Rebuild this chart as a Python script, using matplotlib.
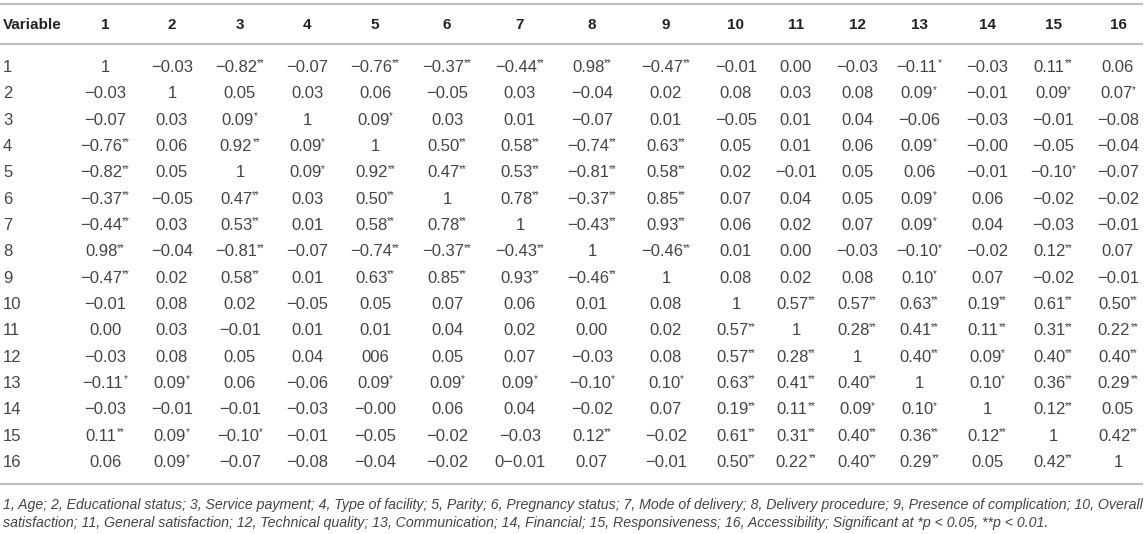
import matplotlib.pyplot as plt
from matplotlib.lines import Line2D

plt.rcParams['font.family'] = ['Liberation Sans', 'DejaVu Sans']

# column headers and row labels
col_labels = [str(i) for i in range(1, 17)]
row_labels = [str(i) for i in range(1, 17)]

# correlation values as printed (stars = significance)
r1 = ['1', '−0.03', '−0.82**', '−0.07', '−0.76**', '−0.37**', '−0.44**', '0.98**', '−0.47**', '−0.01', '0.00', '−0.03', '−0.11*', '−0.03', '0.11**', '0.06']
r2 = ['−0.03', '1', '0.05', '0.03', '0.06', '−0.05', '0.03', '−0.04', '0.02', '0.08', '0.03', '0.08', '0.09*', '−0.01', '0.09*', '0.07*']
r3 = ['−0.07', '0.03', '0.09*', '1', '0.09*', '0.03', '0.01', '−0.07', '0.01', '−0.05', '0.01', '0.04', '−0.06', '−0.03', '−0.01', '−0.08']
r4 = ['−0.76**', '0.06', '0.92**', '0.09*', '1', '0.50**', '0.58**', '−0.74**', '0.63**', '0.05', '0.01', '0.06', '0.09*', '−0.00', '−0.05', '−0.04']
r5 = ['−0.82**', '0.05', '1', '0.09*', '0.92**', '0.47**', '0.53**', '−0.81**', '0.58**', '0.02', '−0.01', '0.05', '0.06', '−0.01', '−0.10*', '−0.07']
r6 = ['−0.37**', '−0.05', '0.47**', '0.03', '0.50**', '1', '0.78**', '−0.37**', '0.85**', '0.07', '0.04', '0.05', '0.09*', '0.06', '−0.02', '−0.02']
r7 = ['−0.44**', '0.03', '0.53**', '0.01', '0.58**', '0.78**', '1', '−0.43**', '0.93**', '0.06', '0.02', '0.07', '0.09*', '0.04', '−0.03', '−0.01']
r8 = ['0.98**', '−0.04', '−0.81**', '−0.07', '−0.74**', '−0.37**', '−0.43**', '1', '−0.46**', '0.01', '0.00', '−0.03', '−0.10*', '−0.02', '0.12**', '0.07']
r9 = ['−0.47**', '0.02', '0.58**', '0.01', '0.63**', '0.85**', '0.93**', '−0.46**', '1', '0.08', '0.02', '0.08', '0.10*', '0.07', '−0.02', '−0.01']
r10 = ['−0.01', '0.08', '0.02', '−0.05', '0.05', '0.07', '0.06', '0.01', '0.08', '1', '0.57**', '0.57**', '0.63**', '0.19**', '0.61**', '0.50**']
r11 = ['0.00', '0.03', '−0.01', '0.01', '0.01', '0.04', '0.02', '0.00', '0.02', '0.57**', '1', '0.28**', '0.41**', '0.11**', '0.31**', '0.22**']
r12 = ['−0.03', '0.08', '0.05', '0.04', '006', '0.05', '0.07', '−0.03', '0.08', '0.57**', '0.28**', '1', '0.40**', '0.09*', '0.40**', '0.40**']
r13 = ['−0.11*', '0.09*', '0.06', '−0.06', '0.09*', '0.09*', '0.09*', '−0.10*', '0.10*', '0.63**', '0.41**', '0.40**', '1', '0.10*', '0.36**', '0.29**']
r14 = ['−0.03', '−0.01', '−0.01', '−0.03', '−0.00', '0.06', '0.04', '−0.02', '0.07', '0.19**', '0.11**', '0.09*', '0.10*', '1', '0.12**', '0.05']
r15 = ['0.11**', '0.09*', '−0.10*', '−0.01', '−0.05', '−0.02', '−0.03', '0.12**', '−0.02', '0.61**', '0.31**', '0.40**', '0.36**', '0.12**', '1', '0.42**']
r16 = ['0.06', '0.09*', '−0.07', '−0.08', '−0.04', '−0.02', '0−0.01', '0.07', '−0.01', '0.50**', '0.22**', '0.40**', '0.29**', '0.05', '0.42**', '1']
rows = [r1, r2, r3, r4, r5, r6, r7, r8, r9, r10, r11, r12, r13, r14, r15, r16]

note1 = ('1, Age; 2, Educational status; 3, Service payment; 4, Type of facility; 5, Parity; '
         '6, Pregnancy status; 7, Mode of delivery; 8, Delivery procedure; 9, Presence of complication; 10, Overall')
note2 = ('satisfaction; 11, General satisfaction; 12, Technical quality; 13, Communication; 14, Financial; '
         '15, Responsiveness; 16, Accessibility; Significant at *p < 0.05, **p < 0.01.')

W, H = 1145, 534
fig = plt.figure(figsize=(W / 100, H / 100), dpi=100)


def fx(x):
    return x / W


def fy(y):
    return 1 - y / H


# layout in pixels
col_x = [105, 172, 240, 307, 375, 447, 520, 592, 666, 736, 796, 857, 919, 987, 1053, 1118]
head_y = 25
row_y0, row_dy = 67.5, 26.33
fs = 12
hfs = 11
txt_col = '#444444'
line_col = '#bdbdbd'

for y in [4, 44, 484]:
    fig.add_artist(Line2D([fx(0), fx(1142)], [fy(y), fy(y)], color=line_col, lw=1.5))

fig.text(fx(3), fy(head_y), 'Variable', ha='left', va='center', fontsize=hfs,
         fontweight='bold', color='#222222')
for lab, cx in zip(col_labels, col_x):
    fig.text(fx(cx), fy(head_y), lab, ha='center', va='center', fontsize=hfs,
             fontweight='bold', color='#222222')

cells = []
for i, (lab, row) in enumerate(zip(row_labels, rows)):
    cy = row_y0 + i * row_dy
    fig.text(fx(3), fy(cy), lab, ha='left', va='center', fontsize=fs, color=txt_col)
    for cx, val in zip(col_x, row):
        num = val.rstrip('*')
        stars = val[len(num):]
        t = fig.text(0, 0, num, ha='left', va='center', fontsize=fs, color=txt_col)
        s = fig.text(0, 0, stars, ha='left', va='center', fontsize=7, color=txt_col) if stars else None
        cells.append((cx, cy, t, s))

n1 = fig.text(fx(3), fy(505), note1, ha='left', va='center', fontsize=fs, style='italic', color=txt_col)
n2 = fig.text(fx(3), fy(523), note2, ha='left', va='center', fontsize=fs, style='italic', color=txt_col)

r = fig.canvas.get_renderer()
for cx, cy, t, s in cells:
    tw = t.get_window_extent(r).width
    sw = s.get_window_extent(r).width if s is not None else 0
    left = cx - (tw + sw) / 2
    t.set_position((fx(left), fy(cy)))
    if s is not None:
        s.set_position((fx(left + tw), fy(cy - 4)))

# shrink the footnote so the first line spans the width
w1 = n1.get_window_extent(r).width
nfs = fs * 1135 / w1
n1.set_fontsize(nfs)
n2.set_fontsize(nfs)

fig.savefig('out.png', dpi=100)
